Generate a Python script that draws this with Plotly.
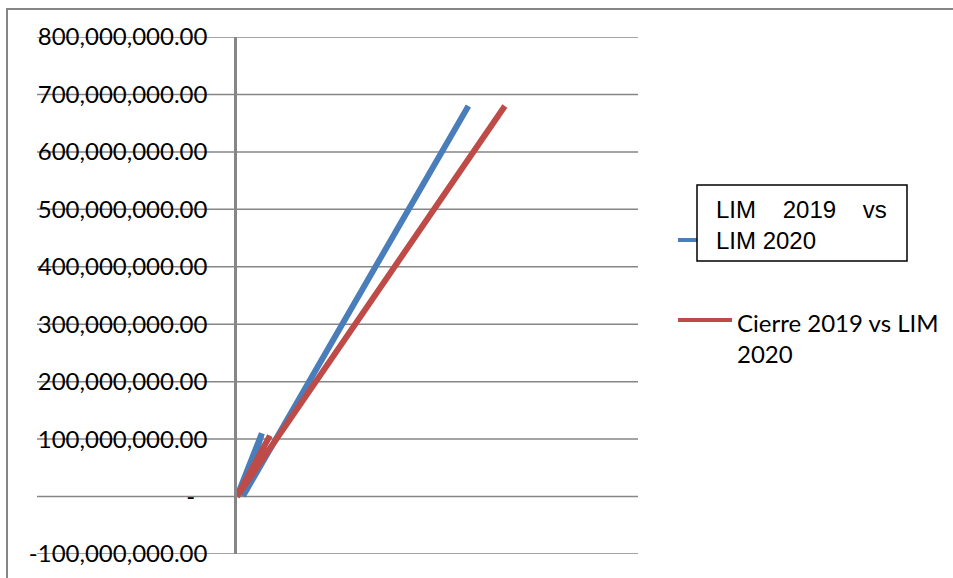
import plotly.graph_objects as go

# ---- data ----
series_names = ["LIM    2019    vs<br>LIM 2020", "Cierre 2019 vs LIM<br>2020"]
x_lim = [0, 62e6, 15e6, 577e6]
y_lim = [0, 110e6, 1e6, 680e6]
x_cierre = [0, 82e6, 0, 668e6]
y_cierre = [0, 106e6, 0, 680e6]
y_ticks = [-100e6, 0, 100e6, 200e6, 300e6, 400e6, 500e6, 600e6, 700e6, 800e6]

BLUE = "#4A7EBB"
RED = "#BE4B48"
GRID = "#868686"

def fmt(v):
    if v == 0:
        return "-\u00a0\u00a0"
    return f"{v:,.2f}"

W, H = 953, 578
L, R, T, B = 237, 315, 37, 24
PW, PH = W - L - R, H - T - B

def px(x):
    return (x - L) / PW

def py(y):
    return (H - B - y) / PH

fig = go.Figure()
fig.add_trace(go.Scatter(x=x_lim, y=y_lim, mode="lines", name="LIM 2019 vs LIM 2020",
                         line=dict(color=BLUE, width=6), showlegend=False, hoverinfo="skip"))
fig.add_trace(go.Scatter(x=x_cierre, y=y_cierre, mode="lines", name="Cierre 2019 vs LIM 2020",
                         line=dict(color=RED, width=6), showlegend=False, hoverinfo="skip"))

shapes = []
# outer chart frame
shapes.append(dict(type="rect", xref="paper", yref="paper", x0=px(7), x1=px(975), y0=py(9), y1=py(600),
                   line=dict(color=GRID, width=2), fillcolor="rgba(0,0,0,0)", layer="below"))
# gridlines (extending left under the labels)
for v in y_ticks:
    shapes.append(dict(type="line", xref="paper", yref="y", x0=px(37), x1=1, y0=v, y1=v,
                       line=dict(color=GRID, width=1.5), layer="below"))
# legend samples
shapes.append(dict(type="line", xref="paper", yref="paper", x0=px(678), x1=px(732), y0=py(240), y1=py(240),
                   line=dict(color=BLUE, width=4)))
shapes.append(dict(type="line", xref="paper", yref="paper", x0=px(678), x1=px(732), y0=py(320), y1=py(320),
                   line=dict(color=RED, width=4)))
# text box over the first legend entry
shapes.append(dict(type="rect", xref="paper", yref="paper", x0=px(697), x1=px(907), y0=py(261), y1=py(185),
                   line=dict(color="black", width=1.5), fillcolor="white"))

annotations = [
    dict(xref="paper", yref="paper", x=px(714), y=py(225), xanchor="left", yanchor="middle",
         text=series_names[0].replace("    ", "\u00a0\u00a0\u00a0\u00a0"), showarrow=False, align="left",
         font=dict(family="Liberation Sans, Arial", size=24, color="black")),
    dict(xref="paper", yref="paper", x=px(735), y=py(338), xanchor="left", yanchor="middle",
         text=series_names[1], showarrow=False, align="left",
         font=dict(family="Lato", size=24, color="black")),
]

fig.update_layout(
    width=W, height=H, autosize=False,
    margin=dict(l=L, r=R, t=T, b=B, pad=0),
    paper_bgcolor="white", plot_bgcolor="white",
    shapes=shapes, annotations=annotations, showlegend=False,
    xaxis=dict(range=[0, 1e9], showticklabels=False, showgrid=False, zeroline=False,
               showline=False, ticks=""),
    yaxis=dict(range=[-100e6, 800e6], tickvals=y_ticks, ticktext=[fmt(v) for v in y_ticks],
               showgrid=False, zeroline=False, showline=True, linecolor=GRID, linewidth=2.5,
               ticks="", ticklabelstandoff=22,
               tickfont=dict(family="Lato", size=24, color="black")),
)

fig.write_html("out.html", config={"displayModeBar": False},
               post_script="document.body.style.margin='0';document.body.style.overflow='hidden';")
